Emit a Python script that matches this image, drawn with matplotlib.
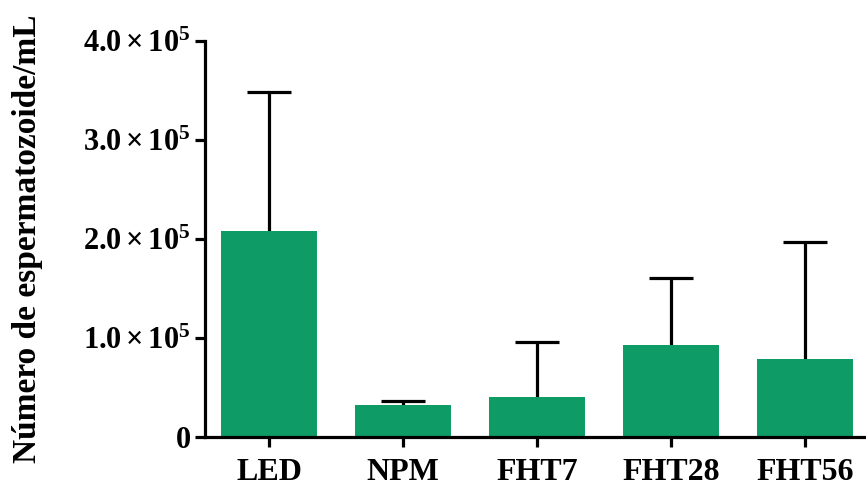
import matplotlib
matplotlib.use("Agg")
import matplotlib.pyplot as plt
from matplotlib.ticker import FuncFormatter, FixedLocator

groups = ["LED", "NPM", "FHT7", "FHT28", "FHT56"]
means = [2.08e5, 0.325e5, 0.405e5, 0.93e5, 0.79e5]
sem = [1.41e5, 0.04e5, 0.555e5, 0.68e5, 1.18e5]
yticks = [0, 1e5, 2e5, 3e5, 4e5]

plt.rcParams["font.family"] = "Liberation Serif"
plt.rcParams["font.weight"] = "bold"
plt.rcParams["mathtext.fontset"] = "custom"
plt.rcParams["mathtext.rm"] = "Liberation Serif:bold"
plt.rcParams["mathtext.bf"] = "Liberation Serif:bold"
plt.rcParams["mathtext.it"] = "Liberation Serif:bold:italic"

fig = plt.figure(figsize=(8.66, 4.86), dpi=100)
ax = fig.add_axes([0.2367, 0.1008, 0.7633, 0.8148])

green = "#0f9b66"
x = list(range(len(groups)))
ax.bar(x, means, width=0.71, color=green, zorder=2)
eb = ax.errorbar(x, means, yerr=[[0] * len(sem), sem], fmt="none", ecolor="black",
                 elinewidth=2.3, capsize=16, capthick=2.3, zorder=1)
# upper error only: hide the caps at the bar tops
eb[1][0].set_visible(False)

ax.set_xlim(-0.478, 4.455)
ax.set_ylim(0, 4e5)

def fmt(v, pos):
    if v == 0:
        return "0"
    return r"$%.1f\times 10^{5}$" % (v / 1e5)

ax.yaxis.set_major_locator(FixedLocator(yticks))
ax.yaxis.set_major_formatter(FuncFormatter(fmt))
ax.set_xticks(x)
ax.set_xticklabels(groups)

for s in ["top", "right"]:
    ax.spines[s].set_visible(False)
for s in ["left", "bottom"]:
    ax.spines[s].set_linewidth(2.3)
ax.spines["bottom"].set_zorder(3)

ax.tick_params(axis="both", which="major", width=2.3, length=7, direction="out")
ax.tick_params(axis="x", labelsize=23, pad=8)
ax.tick_params(axis="y", labelsize=22, pad=3)
for lab in ax.get_xticklabels() + ax.get_yticklabels():
    lab.set_fontweight("bold")

ax.set_ylabel("Número de espermatozoide/mL", fontsize=24, fontweight="bold")
ax.yaxis.set_label_coords(-0.245, 0.5)

fig.savefig("out.png", dpi=100)
